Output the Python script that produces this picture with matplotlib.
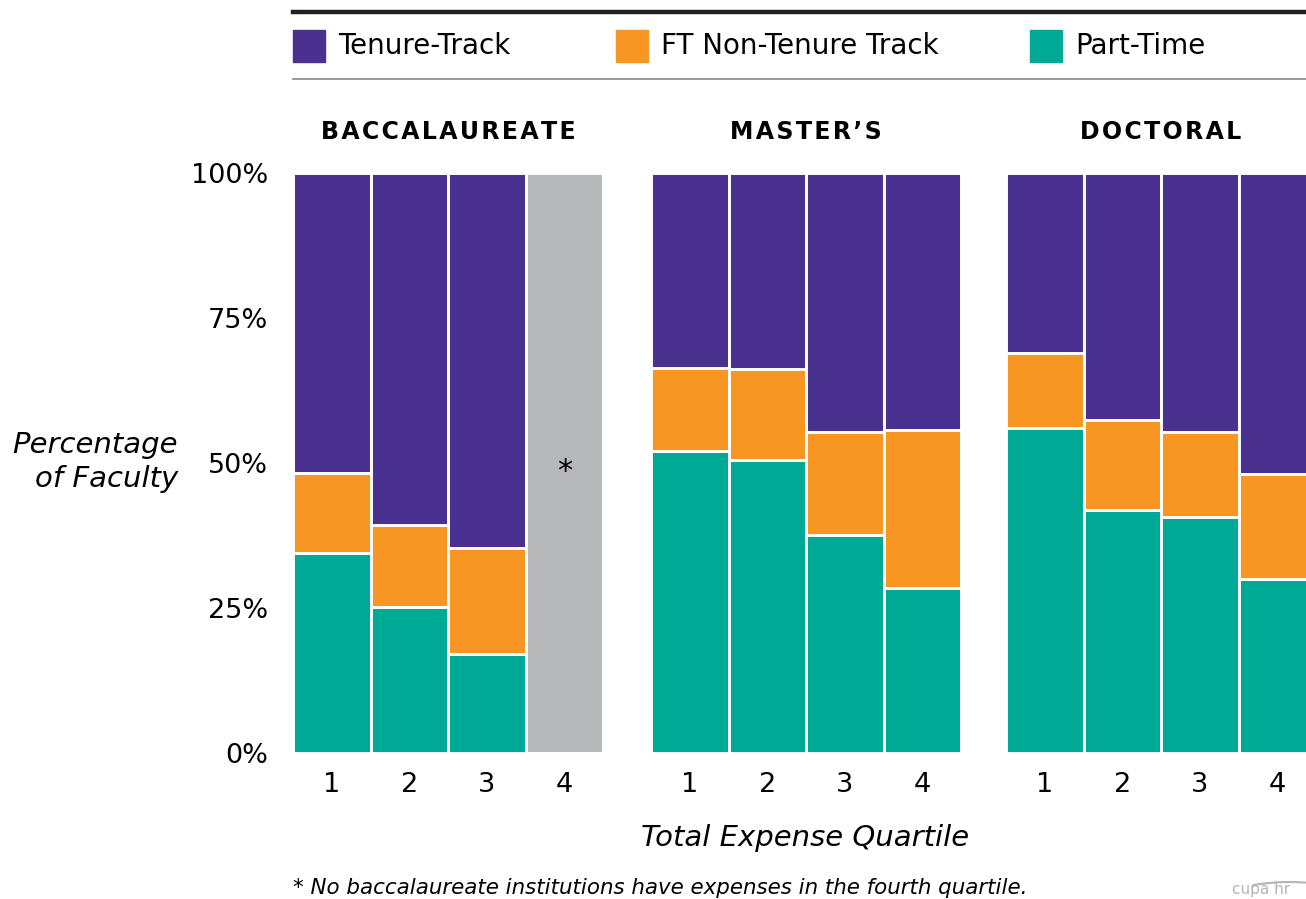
import matplotlib
matplotlib.use("Agg")
import matplotlib.pyplot as plt
from matplotlib.patches import Rectangle, Arc
from matplotlib.lines import Line2D

plt.rcParams['font.family'] = ['DejaVu Sans']

groups = ["BACCALAUREATE", "MASTER\u2019S", "DOCTORAL"]
quartiles = ["1", "2", "3", "4"]
series = ["Tenure-Track", "FT Non-Tenure Track", "Part-Time"]
colors = ["#4b318f", "#f79622", "#00a896"]
na_color = "#b7b8ba"

# values in percent, per group, per quartile (None = no data)
part_time = [[34.5, 25.2, 17.1, None], [52.1, 50.5, 37.6, 28.4], [56.0, 41.9, 40.7, 30.0]]
ft_ntt = [[13.8, 14.1, 18.2, None], [14.3, 15.7, 17.7, 27.3], [13.0, 15.5, 14.6, 18.1]]
tenure = [[51.7, 60.7, 64.7, None], [33.6, 33.8, 44.7, 44.3], [31.0, 42.6, 44.7, 51.9]]
yticks = [0, 25, 50, 75, 100]
footnote = "* No baccalaureate institutions have expenses in the fourth quartile."

W, H = 1306, 899
fig = plt.figure(figsize=(W / 100, H / 100), dpi=100)
ax = fig.add_axes([293 / W, 1 - 753 / H, (1306 - 293) / W, (753 - 173) / H])

group_start = [0.0, 4.62, 9.20]
gap_lw = 2.1
for g in range(3):
    for i in range(4):
        x = group_start[g] + i + 0.5
        if part_time[g][i] is None:
            ax.bar(x, 100, width=1.0, color=na_color, edgecolor="white", linewidth=gap_lw)
            ax.text(x, 48.5, "*", ha="center", va="center", fontsize=22, color="black")
            continue
        pt, nt, tt = part_time[g][i], ft_ntt[g][i], tenure[g][i]
        ax.bar(x, pt, width=1.0, color=colors[2], edgecolor="white", linewidth=gap_lw)
        ax.bar(x, nt, bottom=pt, width=1.0, color=colors[1], edgecolor="white", linewidth=gap_lw)
        ax.bar(x, tt, bottom=pt + nt, width=1.0, color=colors[0], edgecolor="white", linewidth=gap_lw)

ax.set_xlim(0, (1306 - 293) / 77.5)
ax.set_ylim(0, 100)
for s in ax.spines.values():
    s.set_visible(False)
ax.set_yticks(yticks)
ax.set_yticklabels([f"{v}%" for v in yticks], fontsize=19.5)
ax.tick_params(axis="y", length=0, pad=18)
xt = [group_start[g] + i + 0.5 for g in range(3) for i in range(4)]
ax.set_xticks(xt)
ax.set_xticklabels(quartiles * 3, fontsize=19.5)
ax.tick_params(axis="x", length=0, pad=14)

# group titles
for g in range(3):
    xc = group_start[g] + 2.0
    title = "\u200a".join(groups[g])
    ax.text(xc, 107, title, ha="center", va="center", fontsize=17, fontweight="bold",
            color="black")

# axis labels
fig.text(805 / W, 1 - 838 / H, "Total Expense Quartile", ha="center", va="center",
         fontsize=21, style="italic")
fig.text(178 / W, 1 - 462 / H, "Percentage\nof Faculty", ha="right", va="center",
         fontsize=21, style="italic", linespacing=1.3)
fig.text(293 / W, 1 - 888 / H, footnote, ha="left", va="center", fontsize=15.4, style="italic")

# legend
fig.add_artist(Line2D([293 / W, 1.0], [1 - 12 / H, 1 - 12 / H], color="#231f20", linewidth=3.2))
fig.add_artist(Line2D([293 / W, 1.0], [1 - 79 / H, 1 - 79 / H], color="#8a8a8a", linewidth=1.2))
leg_x = [293, 616, 1030]
for k in range(3):
    fig.add_artist(Rectangle((leg_x[k] / W, 1 - 62 / H), 32 / W, 32 / H, color=colors[k],
                             transform=fig.transFigure))
    fig.text((leg_x[k] + 45) / W, 1 - 46 / H, series[k], ha="left", va="center", fontsize=20)

# logo hint
fig.text(1232 / W, 1 - 897 / H, "cupa hr", ha="left", va="bottom", fontsize=11, color="#b5b5b5")
fig.add_artist(Arc((1290 / W, 1 - 900 / H), 130 / W, 36 / H, theta1=40, theta2=150,
                   transform=fig.transFigure, color="#b5b5b5", linewidth=1.5))

fig.savefig("out.png", dpi=100)
